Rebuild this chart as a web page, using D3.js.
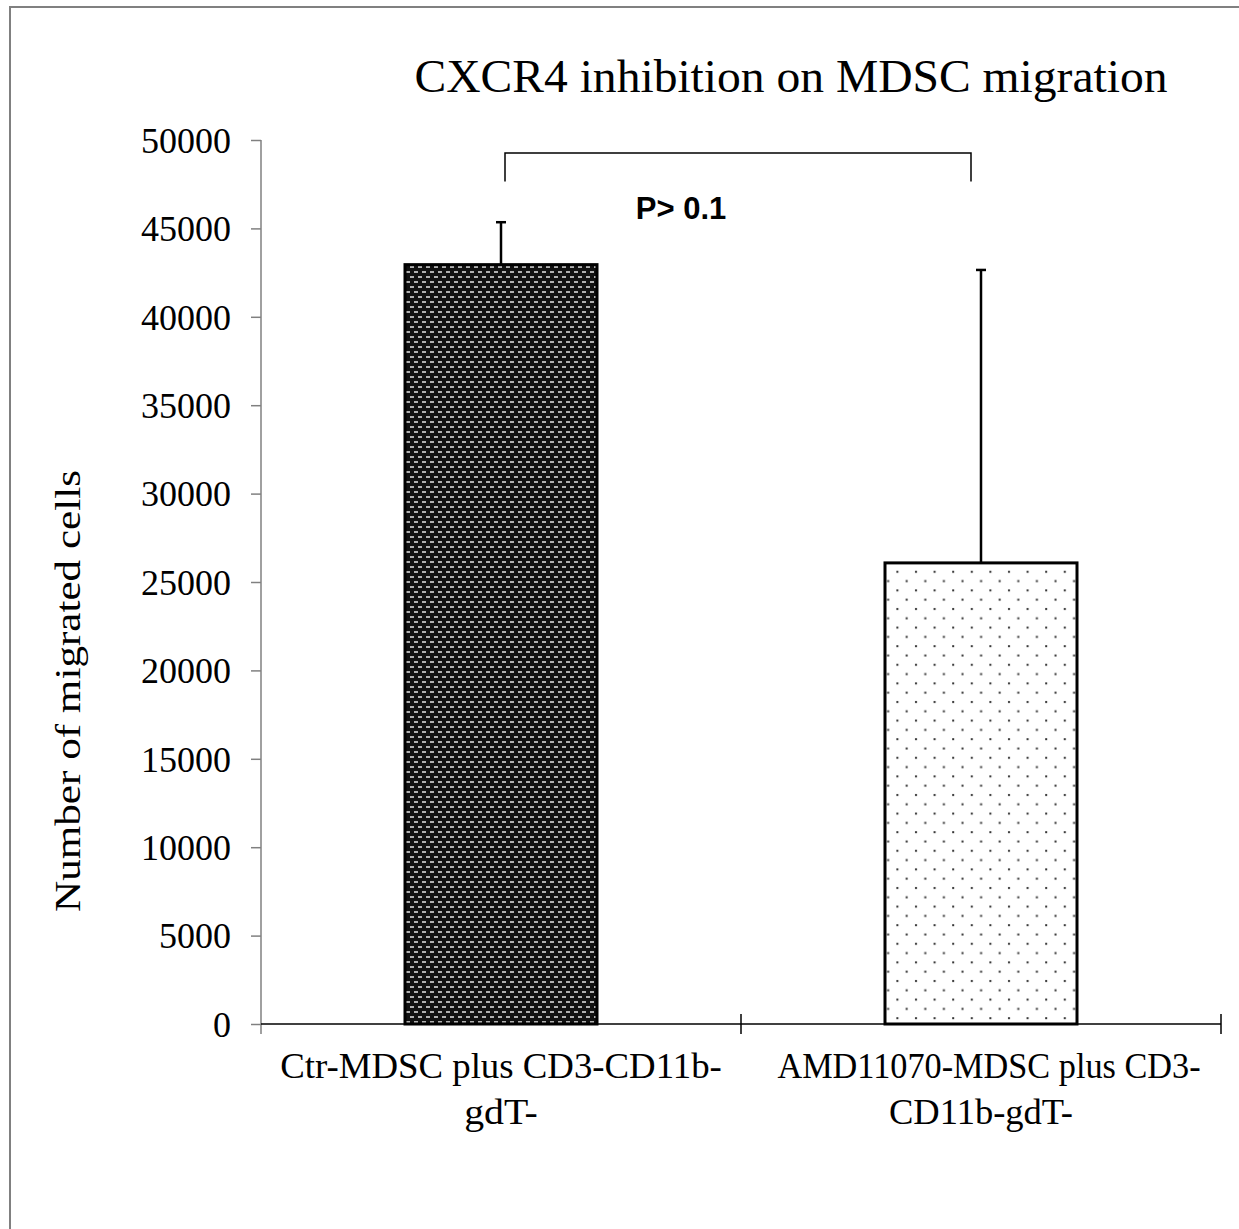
<!DOCTYPE html>
<html>
<head>
<meta charset="utf-8">
<script src="https://cdn.jsdelivr.net/npm/d3@7"></script>
<style>
  body { margin: 0; background: #fff; }
  svg { display: block; }
</style>
</head>
<body>
<div id="chart"></div>
<script>
// chart data
var categories = ["Ctr-MDSC plus CD3-CD11b-gdT-", "AMD11070-MDSC plus CD3-CD11b-gdT-"];
var labelLines = [["Ctr-MDSC plus CD3-CD11b-", "gdT-"], ["AMD11070-MDSC plus CD3-", "CD11b-gdT-"]];
var means = [42950, 26080];
var errors = [2400, 16570];
var yTicks = [0, 5000, 10000, 15000, 20000, 25000, 30000, 35000, 40000, 45000, 50000];
var titleText = "CXCR4 inhibition on MDSC migration";
var yLabel = "Number of migrated cells";
var pText = "P> 0.1";

var W = 1239, H = 1229;
var margin = {top: 140, right: 18, bottom: 205, left: 261},
    width = W - margin.left - margin.right,
    height = H - margin.top - margin.bottom;

var svg = d3.select("#chart").append("svg")
    .attr("width", W)
    .attr("height", H);

// patterns
var defs = svg.append("defs");
var dark = defs.append("pattern")
    .attr("id", "darkPat")
    .attr("patternUnits", "userSpaceOnUse")
    .attr("width", 8).attr("height", 10);
dark.append("rect").attr("width", 8).attr("height", 10).attr("fill", "#111");
dark.append("rect").attr("x", 1).attr("y", 1).attr("width", 4).attr("height", 2).attr("fill", "#b0b0b0");
dark.append("rect").attr("x", 5).attr("y", 6).attr("width", 4).attr("height", 2).attr("fill", "#b0b0b0");
dark.append("rect").attr("x", -3).attr("y", 6).attr("width", 4).attr("height", 2).attr("fill", "#b0b0b0");

var dots = defs.append("pattern")
    .attr("id", "dotPat")
    .attr("patternUnits", "userSpaceOnUse")
    .attr("width", 18.6).attr("height", 18.6);
dots.append("rect").attr("width", 18.6).attr("height", 18.6).attr("fill", "#fff");
dots.append("rect").attr("x", 3).attr("y", 3).attr("width", 2).attr("height", 2).attr("fill", "#333");
dots.append("rect").attr("x", 12.3).attr("y", 12.3).attr("width", 2).attr("height", 2).attr("fill", "#333");

// outer frame
svg.append("rect")
    .attr("x", 10).attr("y", 7)
    .attr("width", 1400).attr("height", 1400)
    .attr("fill", "none")
    .attr("stroke", "#808080")
    .attr("stroke-width", 2);

var g = svg.append("g")
    .attr("transform", "translate(" + margin.left + "," + margin.top + ")");

var x = d3.scalePoint()
    .domain(categories)
    .range([0, width])
    .padding(0.5);
var step = x.step();
var barW = step * 0.4;

var y = d3.scaleLinear()
    .domain([0, 50000])
    .range([height, 0]);

// y axis
var yAxis = g.append("g")
    .call(d3.axisLeft(y).tickValues(yTicks).tickSize(10).tickPadding(20).tickFormat(d3.format("d")));
yAxis.select(".domain").attr("stroke", "#808080").attr("stroke-width", 1.5)
    .attr("d", "M0,0V" + (height + 10));
yAxis.selectAll(".tick line").attr("stroke", "#808080").attr("stroke-width", 1.5);
yAxis.selectAll(".tick text")
    .attr("fill", "#000")
    .style("font-family", "'Liberation Serif', 'Times New Roman', serif")
    .style("font-size", "36px")
    .attr("dy", "0.34em");

// x axis line with crossing ticks at category boundaries
var bounds = [0, step, 2 * step];
g.append("line")
    .attr("x1", 0).attr("x2", width)
    .attr("y1", y(0)).attr("y2", y(0))
    .attr("stroke", "#000").attr("stroke-width", 1.5);
g.selectAll(".xtick").data(bounds.slice(1)).enter().append("line")
    .attr("class", "xtick")
    .attr("x1", function(d) { return d; }).attr("x2", function(d) { return d; })
    .attr("y1", y(0) - 10).attr("y2", y(0) + 10)
    .attr("stroke", "#000").attr("stroke-width", 1.5);

// bars
g.selectAll(".bar").data(means).enter().append("rect")
    .attr("class", "bar")
    .attr("x", function(d, i) { return x(categories[i]) - barW / 2; })
    .attr("y", function(d) { return y(d); })
    .attr("width", barW)
    .attr("height", function(d) { return y(0) - y(d); })
    .attr("fill", function(d, i) { return i === 0 ? "url(#darkPat)" : "url(#dotPat)"; })
    .attr("stroke", "#000")
    .attr("stroke-width", 3);

// error bars (upper only)
g.selectAll(".err").data(means).enter().append("line")
    .attr("class", "err")
    .attr("x1", function(d, i) { return x(categories[i]); })
    .attr("x2", function(d, i) { return x(categories[i]); })
    .attr("y1", function(d) { return y(d); })
    .attr("y2", function(d, i) { return y(d + errors[i]); })
    .attr("stroke", "#000").attr("stroke-width", 2.5);
g.selectAll(".cap").data(means).enter().append("line")
    .attr("class", "cap")
    .attr("x1", function(d, i) { return x(categories[i]) - 5; })
    .attr("x2", function(d, i) { return x(categories[i]) + 5; })
    .attr("y1", function(d, i) { return y(d + errors[i]); })
    .attr("y2", function(d, i) { return y(d + errors[i]); })
    .attr("stroke", "#000").attr("stroke-width", 2.5);

// significance bracket
var bx1 = x(categories[0]) + 4, bx2 = x(categories[1]) - 10;
g.append("path")
    .attr("d", "M" + bx1 + "," + y(47650) + "V" + y(49270) + "H" + bx2 + "V" + y(47650))
    .attr("fill", "none")
    .attr("stroke", "#000")
    .attr("stroke-width", 1.5);
g.append("text")
    .attr("x", x(categories[0]) + step * 0.375)
    .attr("y", y(45550))
    .attr("text-anchor", "middle")
    .style("font-family", "'Liberation Sans', Arial, sans-serif")
    .style("font-weight", "bold")
    .style("font-size", "31px")
    .text(pText);

// category labels
var serif = "'Liberation Serif', 'Times New Roman', serif";
labelLines.forEach(function(lines, i) {
    lines.forEach(function(line, j) {
        g.append("text")
            .attr("x", x(categories[i]) + (j === 0 ? 8 * i : 0))
            .attr("y", y(0) + 54 + j * 46)
            .attr("text-anchor", "middle")
            .style("font-family", serif)
            .style("font-size", "35px")
            .attr("textLength", line.length * 18.4)
            .attr("lengthAdjust", "spacingAndGlyphs")
            .text(line);
    });
});

// y label
svg.append("text")
    .attr("transform", "translate(80,691)rotate(-90)")
    .attr("text-anchor", "middle")
    .style("font-family", serif)
    .style("font-size", "35px")
    .attr("textLength", 442)
    .attr("lengthAdjust", "spacingAndGlyphs")
    .text(yLabel);

// title
svg.append("text")
    .attr("x", 791)
    .attr("y", 92)
    .attr("text-anchor", "middle")
    .style("font-family", serif)
    .style("font-size", "46px")
    .attr("textLength", 753)
    .attr("lengthAdjust", "spacingAndGlyphs")
    .text(titleText);
</script>
</body>
</html>
